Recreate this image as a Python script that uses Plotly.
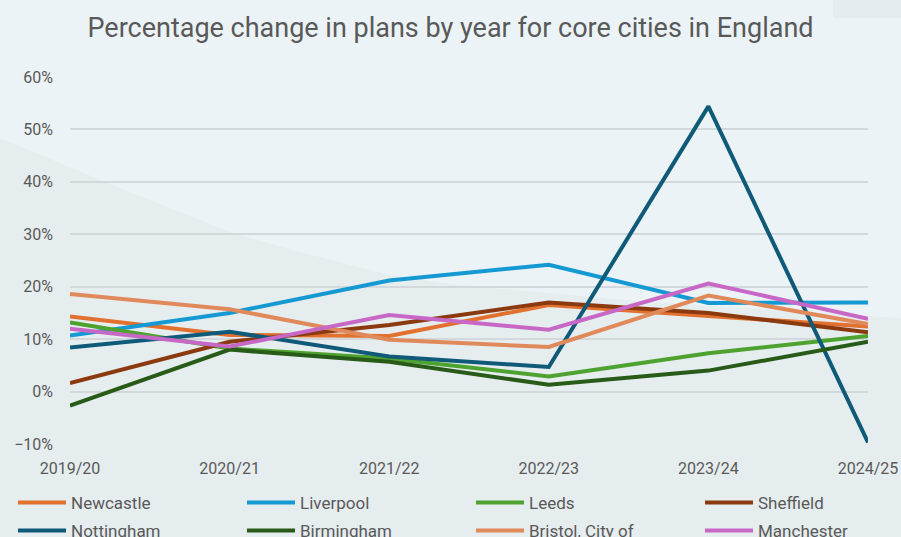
import plotly.graph_objects as go

years = ["2019/20", "2020/21", "2021/22", "2022/23", "2023/24", "2024/25"]

newcastle = [0.143, 0.108, 0.106, 0.165, 0.144, 0.124]
liverpool = [0.107, 0.150, 0.212, 0.242, 0.169, 0.170]
leeds = [0.132, 0.082, 0.063, 0.029, 0.073, 0.106]
sheffield = [0.016, 0.095, 0.127, 0.170, 0.150, 0.113]
nottingham = [0.084, 0.114, 0.067, 0.047, 0.544, -0.097]
birmingham = [-0.027, 0.080, 0.057, 0.013, 0.040, 0.095]
bristol = [0.186, 0.157, 0.099, 0.085, 0.183, 0.129]
manchester = [0.120, 0.086, 0.146, 0.118, 0.206, 0.139]

series = [
    ("Newcastle", newcastle, "#E2702E"),
    ("Liverpool", liverpool, "#1599D2"),
    ("Leeds", leeds, "#4EA22F"),
    ("Sheffield", sheffield, "#8A3A0E"),
    ("Nottingham", nottingham, "#0F5A78"),
    ("Birmingham", birmingham, "#285A18"),
    ("Bristol, City of", bristol, "#E08A5C"),
    ("Manchester", manchester, "#C868C6"),
]

W, H = 901, 537
ML, MR, MT, MB = 70, 33, 77, 93
PW = W - ML - MR

legend_font = dict(size=17, color="#595959")
col_x = [13, 242, 471, 700]
row_top = [485, 513]

fig = go.Figure()
legends = {}
for i, (name, vals, col) in enumerate(series):
    lid = "legend" if i == 0 else f"legend{i + 1}"
    cx = col_x[i % 4]
    ty = row_top[i // 4]
    legends[lid] = dict(orientation="v", xref="paper", yref="container",
                        x=(cx - ML) / PW, y=(H - ty) / H, xanchor="left", yanchor="top",
                        itemwidth=48, bgcolor="rgba(0,0,0,0)", font=legend_font)
    fig.add_trace(go.Scatter(x=years, y=vals, name=name, mode="lines",
                             legend=lid, line=dict(color=col, width=4)))

def px2paper(px, py):
    return (px - ML) / PW, (H - MB - py) / (H - MT - MB)

pts = [(0, 138), (120, 188), (233, 233), (300, 252), (390, 275), (450, 284), (650, 302), (901, 318), (901, 537), (0, 537)]
path = ""
for i, (a, b) in enumerate(pts):
    x, y = px2paper(a, b)
    path += ("M" if i == 0 else "L") + f"{x:.4f},{y:.4f} "
path += "Z"

x0, y0 = px2paper(833, 0)
x1, y1 = px2paper(901, 18)

fig.update_layout(
    width=W, height=H,
    margin=dict(l=ML, r=MR, t=MT, b=MB),
    paper_bgcolor="#ECF3F6",
    plot_bgcolor="rgba(0,0,0,0)",
    font=dict(family="Roboto, Liberation Sans, sans-serif", color="#595959", size=16),
    title=dict(text="Percentage change in plans by year for core cities in England",
               x=0.5, xref="container", xanchor="center", y=0.948, yref="container",
               yanchor="middle",
               font=dict(size=27, color="#595959")),
    shapes=[
        dict(type="path", path=path, xref="paper", yref="paper", layer="below",
             fillcolor="#E6EDEF", line=dict(width=0)),
        dict(type="rect", x0=x0, x1=x1, y0=y0, y1=y1, xref="paper", yref="paper",
             layer="below", fillcolor="#E4ECEF", line=dict(width=0)),
    ],
    xaxis=dict(range=[0, 5], showgrid=False, zeroline=False, showline=False,
               ticks="", ticklabelstandoff=13, tickangle=0, automargin=False,
               tickfont=dict(size=16, color="#595959")),
    yaxis=dict(range=[-0.10, 0.60], dtick=0.10, tickformat=".0%",
               showgrid=True, gridcolor="#D2D8DB", gridwidth=1.5, automargin=False,
               zeroline=False, showline=False, ticklabelstandoff=16,
               tickfont=dict(size=16, color="#595959")),
    showlegend=True,
    **legends,
)

fig.write_html("out.html", config={"displayModeBar": False},
               post_script="document.body.style.margin='0';document.body.style.overflow='hidden';")
